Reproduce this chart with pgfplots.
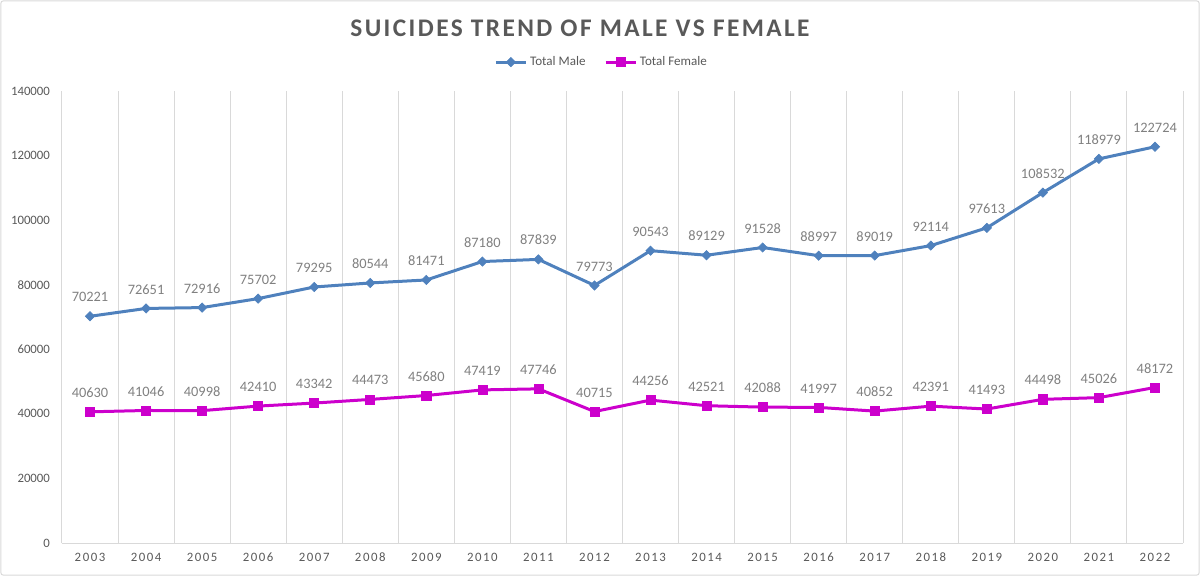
\documentclass[border=0pt]{standalone}
\usepackage{fontspec}
\setmainfont{Carlito}
\usepackage{pgfplots}
\usepackage{pgfplotstable}
\pgfplotsset{compat=1.18}

\definecolor{maleblue}{RGB}{79,129,189}
\definecolor{femalemag}{RGB}{204,0,204}
\definecolor{txtgray}{RGB}{89,89,89}
\definecolor{lblgray}{RGB}{128,128,128}
\definecolor{gridgray}{RGB}{217,217,217}

% year index (0 = 2003) and yearly totals
\pgfplotstableread{
x y
0 70221
1 72651
2 72916
3 75702
4 79295
5 80544
6 81471
7 87180
8 87839
9 79773
10 90543
11 89129
12 91528
13 88997
14 89019
15 92114
16 97613
17 108532
18 118979
19 122724
}\maletable

\pgfplotstableread{
x y
0 40630
1 41046
2 40998
3 42410
4 43342
5 44473
6 45680
7 47419
8 47746
9 40715
10 44256
11 42521
12 42088
13 41997
14 40852
15 42391
16 41493
17 44498
18 45026
19 48172
}\femaletable

\begin{document}
\begin{tikzpicture}
\useasboundingbox (0,0) rectangle (900pt,432pt);
\draw[gridgray, line width=0.75pt, rounded corners=2pt] (0.6pt,0.6pt) rectangle (899.4pt,431.4pt);
\begin{axis}[
  at={(46.5pt,24.75pt)}, anchor=south west,
  scale only axis, width=840.75pt, height=339pt,
  xmin=-0.5, xmax=19.5, ymin=0, ymax=140000,
  axis x line*=bottom, axis y line*=left,
  axis line style={gridgray, line width=0.75pt, -},
  xtick={0,...,19},
  xticklabels={2003,2004,2005,2006,2007,2008,2009,2010,2011,2012,2013,2014,2015,2016,2017,2018,2019,2020,2021,2022},
  minor xtick={-0.5,0.5,...,19.5},
  xminorgrids, minor grid style={gridgray, line width=0.75pt},
  major tick length=0pt, minor tick length=0pt,
  ytick={0,20000,...,140000},
  scaled y ticks=false,
  /pgf/number format/fixed,
  /pgf/number format/precision=0,
  /pgf/number format/1000 sep={},
  /pgf/number format/assume math mode=true,
  tick label style={font=\fontsize{9.6}{11}\selectfont, text=txtgray},
  xticklabel style={font=\fontsize{9.6}{11}\selectfont\addfontfeature{LetterSpace=12}, yshift=-4pt},
  yticklabel style={xshift=-5.5pt},
  clip=false,
  point meta=y,
  nodes near coords={\pgfmathprintnumber[fixed,precision=0,1000 sep={}]{\pgfplotspointmeta}},
  nodes near coords style={font=\fontsize{10.8}{12}\selectfont, text=lblgray, anchor=south, inner sep=0pt, yshift=10.5pt},
  legend columns=2,
  legend style={at={(axis description cs:0.4817,1.064)}, anchor=center, draw=none, fill=none,
    font=\fontsize{9.8}{11}\selectfont, text=txtgray,
    /tikz/every even column/.append style={column sep=12pt}},
  legend image code/.code={\draw[mark repeat=2, mark phase=2] plot coordinates {(0pt,0pt) (11.25pt,0pt) (22.5pt,0pt)};},
]
\addplot[maleblue, line width=2.25pt, mark=square*, mark size=2.45pt,
  mark options={solid, rotate=45, fill=maleblue, draw=maleblue, line width=0.5pt}] table {\maletable};
\addlegendentry{Total Male}
\addplot[femalemag, line width=2.25pt, mark=square*, mark size=3.4pt,
  mark options={solid, fill=femalemag, draw=femalemag, line width=0.5pt}] table {\femaletable};
\addlegendentry{Total Female}
\end{axis}
\node[font=\fontsize{19}{21}\selectfont\bfseries\addfontfeature{LetterSpace=9.5}, text=txtgray] at (435pt,411pt) {SUICIDES TREND OF MALE VS FEMALE};
\end{tikzpicture}
\end{document}
